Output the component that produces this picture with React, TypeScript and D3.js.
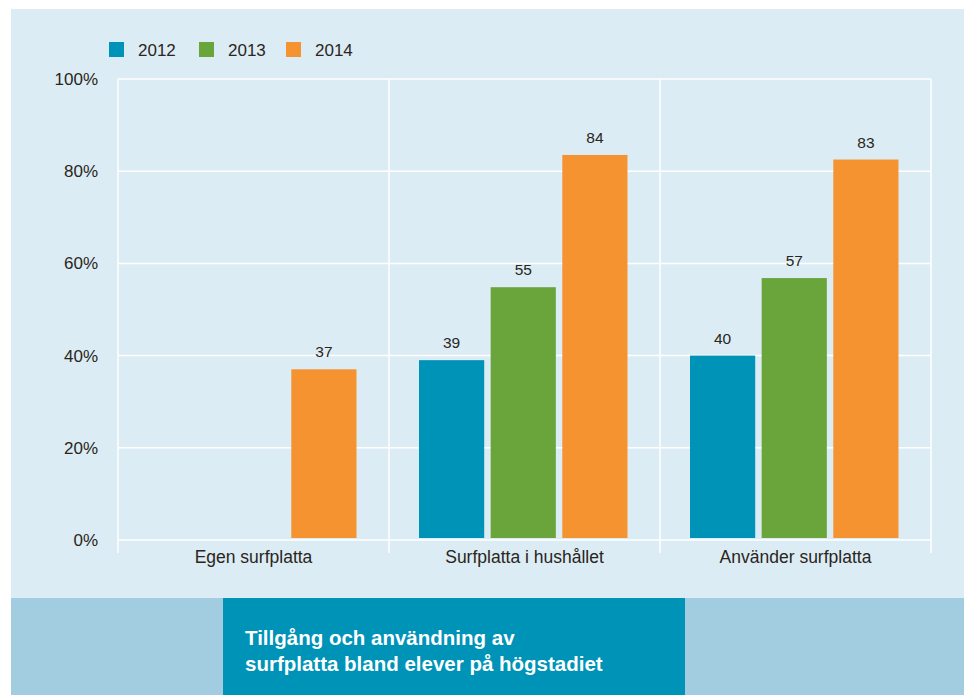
import React from "react";
import * as d3 from "d3";

const categories = ["Egen surfplatta", "Surfplatta i hushållet", "Använder surfplatta"];
const years = ["2012", "2013", "2014"];
const values2012 = [null, 39, 40];
const values2013 = [null, 55, 57];
const values2014 = [37, 84, 83];
const yTicks = [0, 20, 40, 60, 80, 100];
const titleLines = ["Tillgång och användning av", "surfplatta bland elever på högstadiet"];

const colors = ["#0093b8", "#6aa53b", "#f59331"];
const seriesValues = [values2012, values2013, values2014];

const width = 964;
const height = 695;
const marginLeft = 118;
const marginRight = 33;
const marginTop = 79;
const plotBottom = 540;
const font = "'Liberation Sans', Arial, sans-serif";
const textColor = "#2a2520";

const App = () => {
  // group scale, one band per category
  const x0 = d3
    .scaleBand()
    .domain(categories)
    .range([marginLeft, width - marginRight])
    .padding(0);

  // bars inside each band
  const x1 = d3
    .scaleBand()
    .domain(years)
    .range([30, 238.5])
    .paddingInner(0.09);

  // grid scale and bar scale (bars sit just above the zero line)
  const y = d3.scaleLinear().domain([0, 100]).range([plotBottom, marginTop]);
  const yBar = d3.scaleLinear().domain([0, 100]).range([plotBottom - 2, marginTop + 3]);

  const gridX = [...categories.map((c) => x0(c)), width - marginRight];

  return (
    <div style={{ position: "fixed", left: 0, top: 0 }}>
      <svg width={width} height={height} style={{ display: "block" }}>
        <rect x={0} y={0} width={width} height={height} fill="#ffffff" />
        {/* panels */}
        <rect x={11} y={9} width={width - 11} height={589} fill="#dcecf4" />
        <rect x={11} y={598} width={width - 11} height={height - 598} fill="#a2cde1" />
        <rect x={223} y={598} width={462} height={height - 598} fill="#0093b8" />

        {/* legend */}
        {years.map((yr, i) => {
          const lx = [109, 199, 286][i];
          return (
            <g key={yr}>
              <rect x={lx} y={42} width={15} height={15} fill={colors[i]} />
              <text x={lx + 29} y={56} fontSize={17} fontFamily={font} fill={textColor}>
                {yr}
              </text>
            </g>
          );
        })}

        {/* horizontal grid */}
        {yTicks.map((t) => (
          <g key={t}>
            <line
              x1={marginLeft}
              x2={width - marginRight}
              y1={y(t)}
              y2={y(t)}
              stroke="#ffffff"
              strokeWidth={1.5}
            />
            <text
              x={98}
              y={y(t) + 6}
              textAnchor="end"
              fontSize={17}
              fontFamily={font}
              fill={textColor}
            >
              {t}%
            </text>
          </g>
        ))}

        {/* vertical separators */}
        {gridX.map((gx, i) => (
          <line
            key={i}
            x1={gx}
            x2={gx}
            y1={marginTop}
            y2={553}
            stroke="#ffffff"
            strokeWidth={1.5}
          />
        ))}

        {/* bars */}
        {categories.map((c, ci) => (
          <g key={c} transform={`translate(${x0(c)},0)`}>
            {years.map((yr, si) => {
              const v = seriesValues[si][ci];
              if (v === null) return null;
              const bx = x1(yr);
              return (
                <g key={yr}>
                  <rect
                    x={bx}
                    y={yBar(v)}
                    width={x1.bandwidth()}
                    height={yBar(0) - yBar(v)}
                    fill={colors[si]}
                  />
                  <text
                    x={bx + x1.bandwidth() / 2}
                    y={yBar(v) - 12}
                    textAnchor="middle"
                    fontSize={15.5}
                    fontFamily={font}
                    fill={textColor}
                  >
                    {v}
                  </text>
                </g>
              );
            })}
            <text
              x={x0.bandwidth() / 2}
              y={563}
              textAnchor="middle"
              fontSize={17.5}
              fontFamily={font}
              fill={textColor}
            >
              {c}
            </text>
          </g>
        ))}

        {/* title */}
        {titleLines.map((line, i) => (
          <text
            key={i}
            x={245}
            y={645 + i * 26}
            fontSize={20.5}
            fontWeight="bold"
            fontFamily={font}
            fill="#ffffff"
          >
            {line}
          </text>
        ))}
      </svg>
    </div>
  );
};

export default App;
